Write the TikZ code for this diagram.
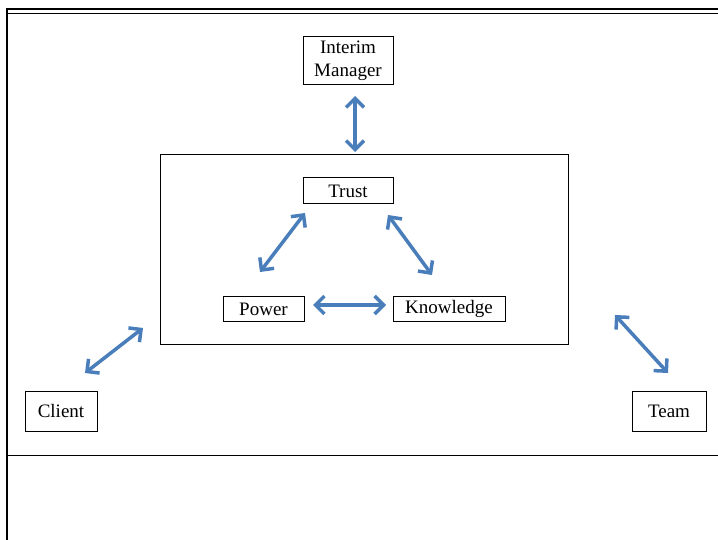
\documentclass[tikz,border=0pt]{standalone}
\usepackage{fontspec}
\setmainfont{Liberation Serif}
\usetikzlibrary{arrows.meta,positioning}
\definecolor{arrblue}{RGB}{74,126,187}

\begin{document}
\begin{tikzpicture}[
  x=1pt, y=-1pt,
  box/.style={rectangle, draw, line width=1pt, inner sep=0pt, align=center, font=\fontsize{19}{23}\selectfont},
  arr/.style={{Straight Barb[length=9pt,width=18pt,line width=3.5pt]}-{Straight Barb[length=9pt,width=18pt,line width=3.5pt]}, line width=3.5pt, draw=arrblue}
]
  \useasboundingbox (0,0) rectangle (718,540);
  % outer frame
  \draw[line width=2.5pt] (7,540) -- (7,9) -- (718,9);
  \draw[line width=1pt] (7,13.5) -- (718,13.5);
  \draw[line width=1pt] (7,455) -- (718,455);

  % centre box and nodes
  \node[box, minimum width=408pt, minimum height=189pt] (core) at (364,249.5) {};
  \node[box, minimum width=90pt, minimum height=48pt] (im) at (348,61) {Interim\\Manager};
  \node[box, minimum width=90pt, minimum height=26pt] (trust) at (348,191) {Trust};
  \node[box, minimum width=81pt, minimum height=25pt] (power) at (263.5,309) {Power};
  \node[box, minimum width=112pt, minimum height=25pt] (know) at (449,309) {Knowledge};
  \node[box, minimum width=72pt, minimum height=40pt] (client) at (61,411) {Client};
  \node[box, minimum width=74pt, minimum height=40pt] (team) at (669,411) {Team};

  % arrow ends
  \coordinate (im-a) at (355,96);
  \coordinate (im-b) at (355,152);
  \coordinate (tp-a) at (305,213);
  \coordinate (tp-b) at (260,272);
  \coordinate (tk-a) at (388,215);
  \coordinate (tk-b) at (432,275);
  \coordinate (pk-a) at (313,305);
  \coordinate (pk-b) at (386,305);
  \coordinate (cl-a) at (143,328);
  \coordinate (cl-b) at (85,373);
  \coordinate (tm-a) at (615,315);
  \coordinate (tm-b) at (668,373);

  \draw[arr] (im-a) -- (im-b);
  \draw[arr] (tp-a) -- (tp-b);
  \draw[arr] (tk-a) -- (tk-b);
  \draw[arr] (pk-a) -- (pk-b);
  \draw[arr] (cl-a) -- (cl-b);
  \draw[arr] (tm-a) -- (tm-b);
\end{tikzpicture}
\end{document}
